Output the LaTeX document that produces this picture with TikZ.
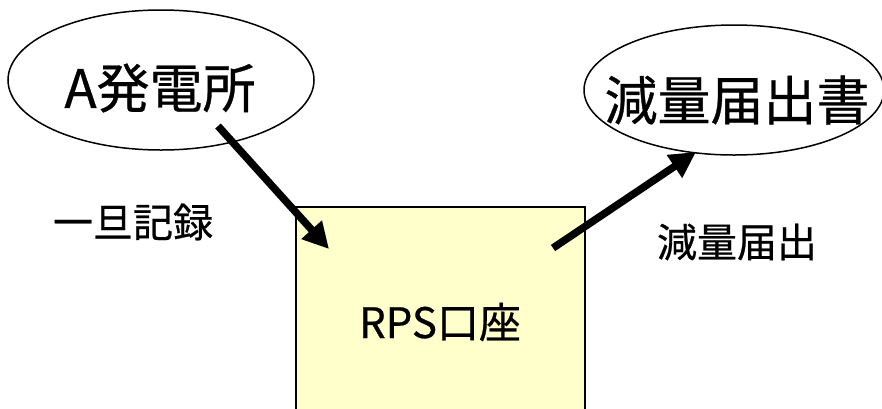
\documentclass[tikz,border=0pt]{standalone}
\usepackage{fontspec}
\setmainfont{Noto Sans CJK JP}[FakeBold=0.6]
\usetikzlibrary{shapes.geometric,arrows.meta}
\definecolor{boxfill}{HTML}{FFFFCC}
\tikzset{
  oval/.style={draw, ellipse, line width=1.5pt, inner sep=0pt},
  account/.style={draw, fill=boxfill, line width=2pt},
  bigarrow/.style={line width=7.5pt, -{Triangle[length=26pt,width=26pt]}},
  biglabel/.style={font=\fontsize{53}{56}\selectfont},
  smalllabel/.style={font=\fontsize{40}{44}\selectfont},
}
\begin{document}
\begin{tikzpicture}[x=1pt,y=-1pt]
\useasboundingbox (0,0) rectangle (882,408);
\begin{scope}
\clip (0,0) rectangle (882,408);
\draw[account] (296,207) rectangle (585,420);
\node[oval, minimum width=306pt, minimum height=140pt] (plant) at (161,80) {};
\node[oval, minimum width=300pt, minimum height=130pt] (report) at (734,90) {};
\end{scope}
\node[biglabel] at (160,88) {A発電所};
\node[biglabel] at (737,100) {減量届出書};
\node[smalllabel] (lab1) at (133,222) {一旦記録};
\node[smalllabel] (lab2) at (737,242) {減量届出};
\node[font=\fontsize{42}{46}\selectfont] (box) at (440,322) {RPS口座};
\coordinate (s1) at (218,126);
\coordinate (e1) at (329,249);
\coordinate (s2) at (553,248);
\coordinate (e2) at (696,152);
\draw[bigarrow] (s1) -- (e1);
\draw[bigarrow] (s2) -- (e2);
\end{tikzpicture}
\end{document}
